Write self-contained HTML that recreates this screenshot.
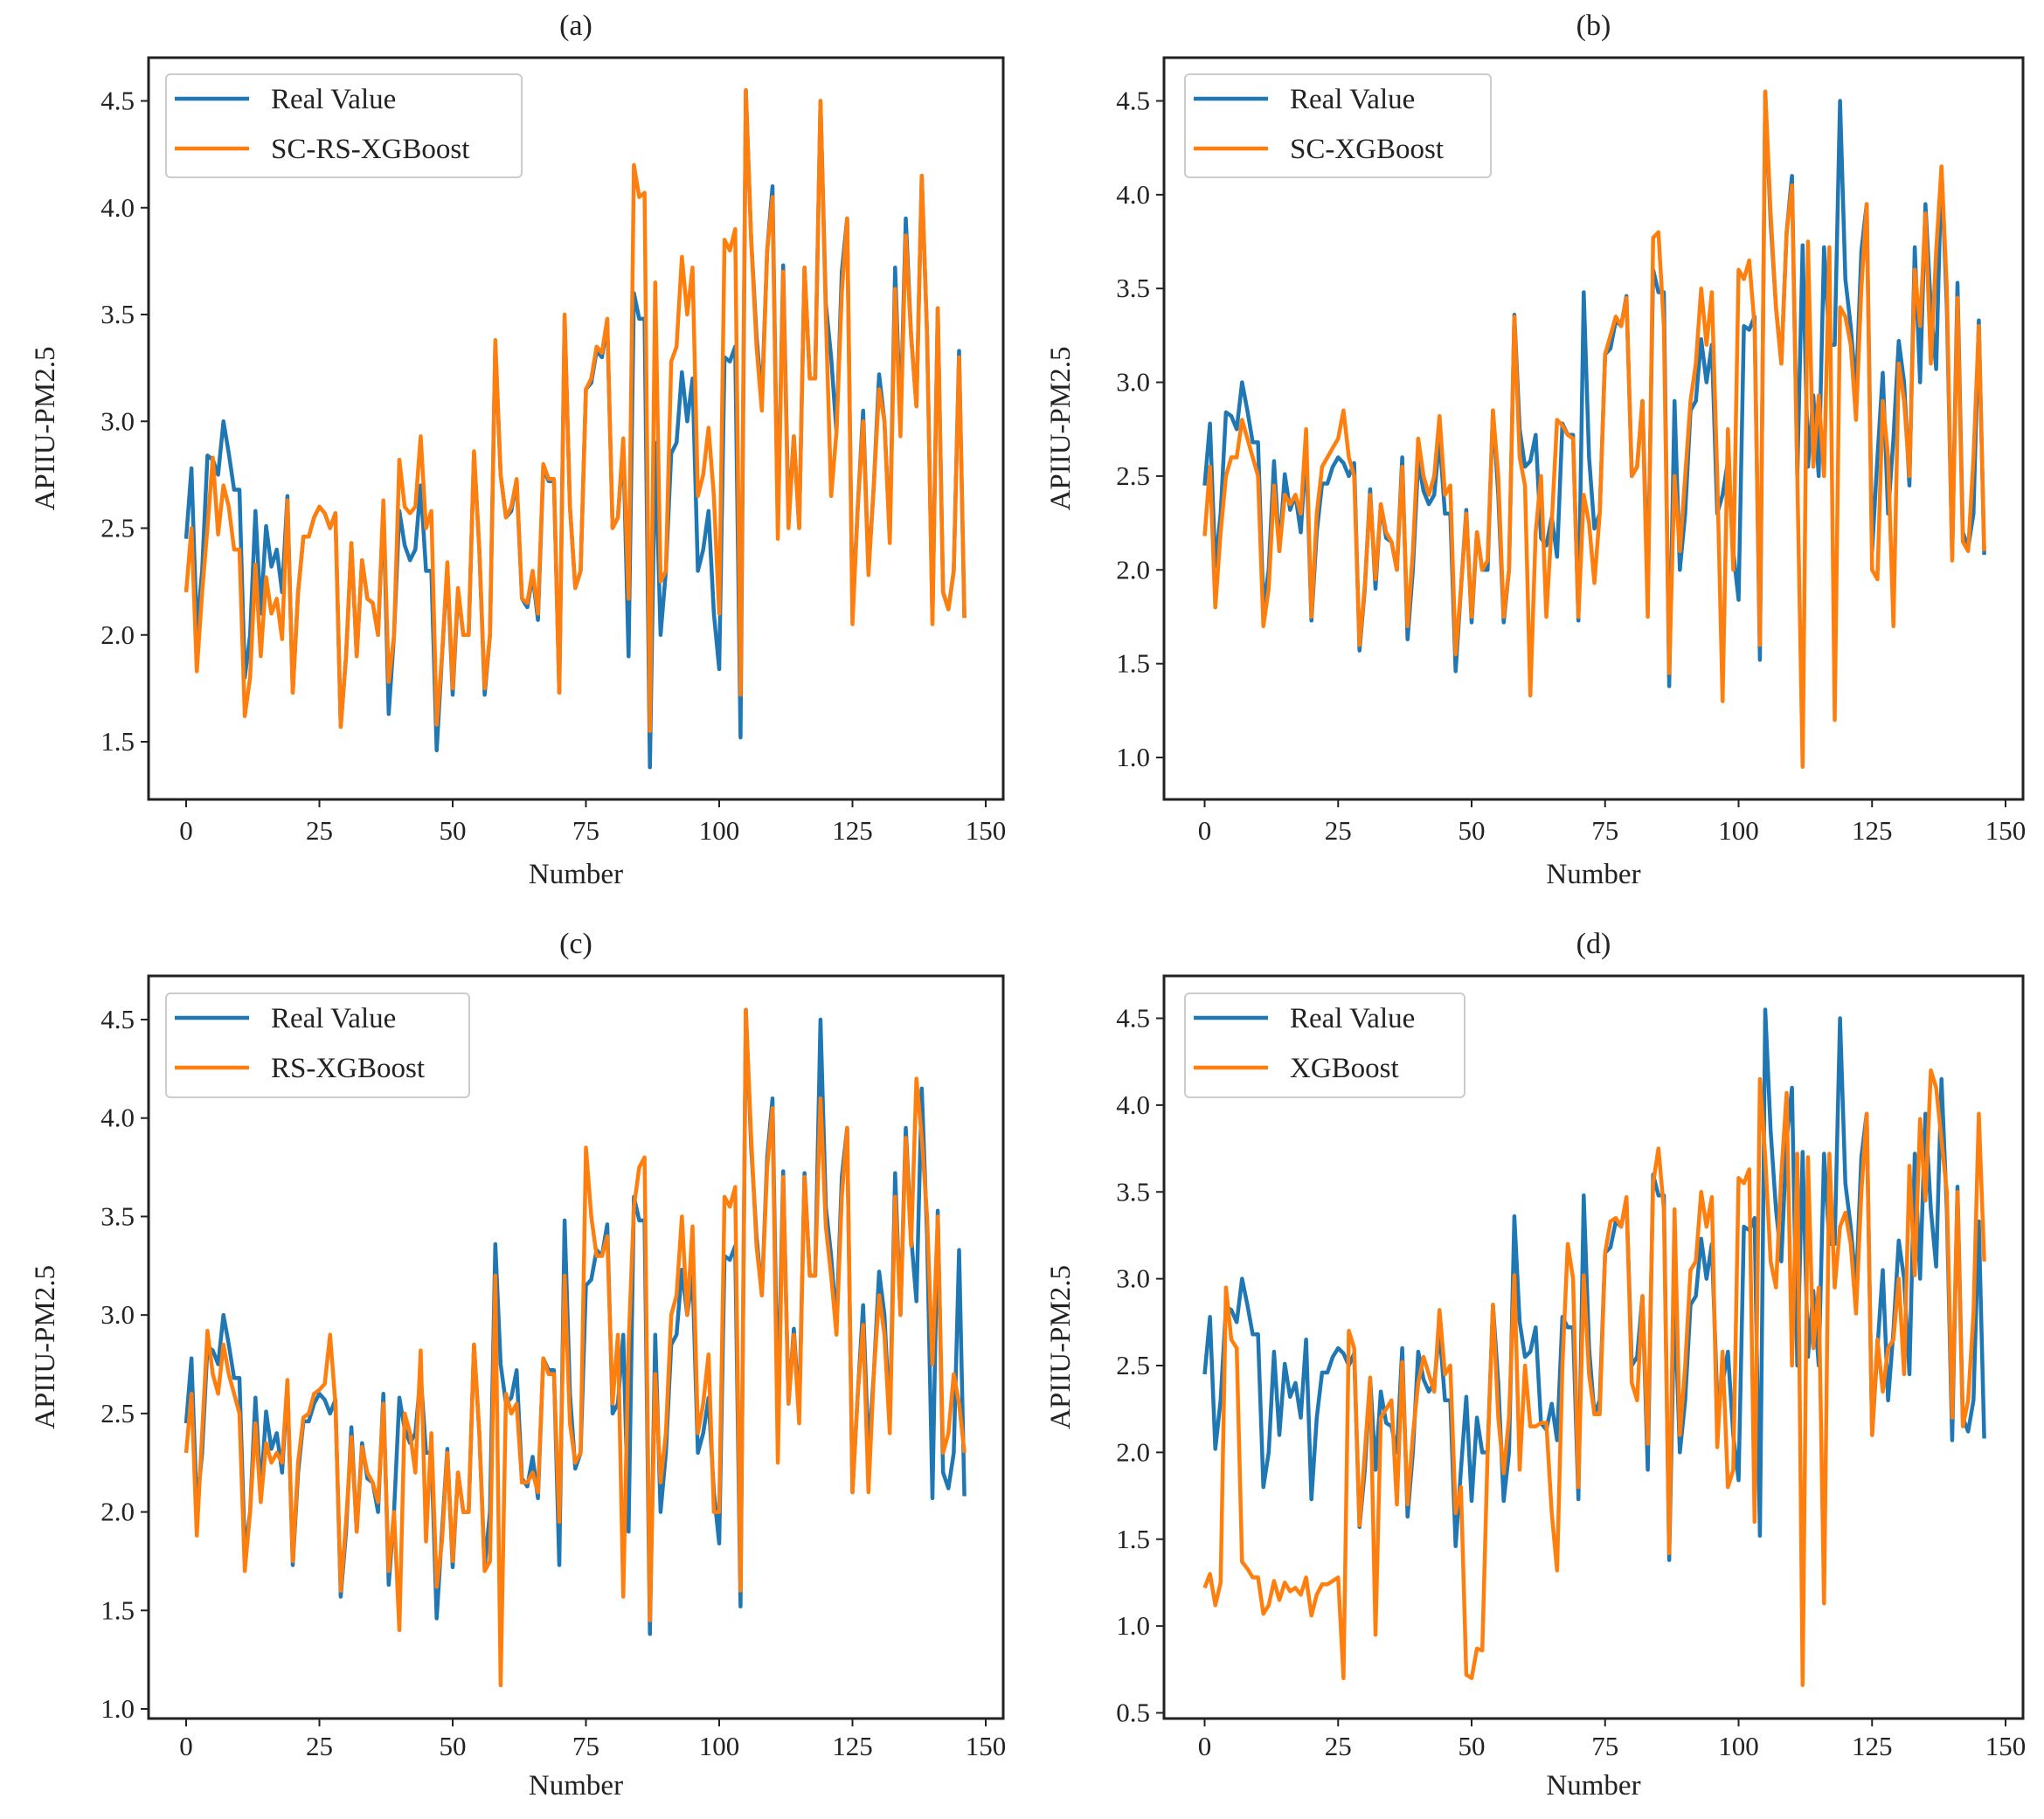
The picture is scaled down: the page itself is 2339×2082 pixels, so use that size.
<!DOCTYPE html>
<html><head><meta charset="utf-8">
<style>
html,body{margin:0;padding:0;background:#fff;}
svg{display:block;font-family:"Liberation Serif",serif;}
</style></head>
<body>
<svg id="fig" width="2339" height="2082" viewBox="0 0 2339 2082" xmlns="http://www.w3.org/2000/svg"></svg>
<script>
const categories = [];
for (let i = 0; i < 147; i++) categories.push(i);
const realValues = [2.45,2.78,2.02,2.3,2.84,2.82,2.75,3.0,2.85,2.68,
2.68,1.8,2.0,2.58,2.1,2.51,2.32,2.4,2.2,2.65,
1.73,2.2,2.46,2.46,2.55,2.6,2.57,2.5,2.57,1.57,
1.9,2.43,1.9,2.35,2.17,2.15,2.0,2.6,1.63,2.0,
2.58,2.42,2.35,2.4,2.7,2.3,2.3,1.46,1.9,2.32,
1.72,2.2,2.0,2.0,2.85,2.4,1.72,2.0,3.36,2.75,
2.55,2.58,2.72,2.17,2.13,2.28,2.07,2.78,2.72,2.72,
1.73,3.48,2.6,2.22,2.3,3.15,3.18,3.33,3.3,3.46,
2.5,2.55,2.9,1.9,3.6,3.48,3.48,1.38,2.9,2.0,
2.3,2.85,2.9,3.23,3.0,3.2,2.3,2.4,2.58,2.1,
1.84,3.3,3.28,3.35,1.52,4.55,3.85,3.4,3.1,3.8,
4.1,2.5,3.73,2.55,2.93,2.5,3.72,3.2,3.2,4.5,
3.55,3.3,2.95,3.7,3.95,2.1,2.6,3.05,2.3,2.7,
3.22,3.0,2.45,3.72,3.0,3.95,3.4,3.07,4.15,3.4,
2.07,3.53,2.2,2.12,2.3,3.33,2.08];
const scRsXgbValues = [2.2,2.5,1.83,2.2,2.5,2.83,2.47,2.7,2.6,2.4,
2.4,1.62,1.8,2.33,1.9,2.27,2.1,2.17,1.98,2.63,
1.73,2.2,2.46,2.46,2.55,2.6,2.57,2.5,2.57,1.57,
1.9,2.43,1.9,2.35,2.17,2.15,2.0,2.63,1.78,2.0,
2.82,2.6,2.57,2.6,2.93,2.5,2.58,1.58,1.9,2.34,
1.75,2.22,2.0,2.0,2.86,2.4,1.75,2.0,3.38,2.75,
2.55,2.6,2.73,2.17,2.15,2.3,2.1,2.8,2.73,2.73,
1.73,3.5,2.6,2.22,2.3,3.15,3.2,3.35,3.32,3.48,
2.5,2.55,2.92,2.17,4.2,4.05,4.07,1.55,3.65,2.25,
2.3,3.28,3.35,3.77,3.5,3.72,2.65,2.75,2.97,2.65,
2.1,3.85,3.8,3.9,1.72,4.55,3.85,3.35,3.05,3.8,
4.05,2.45,3.7,2.5,2.93,2.5,3.72,3.2,3.2,4.5,
3.5,2.65,2.95,3.6,3.95,2.05,2.6,3.0,2.28,2.7,
3.15,3.0,2.43,3.62,2.93,3.87,3.4,3.07,4.15,3.4,
2.05,3.53,2.2,2.12,2.3,3.3,2.08];
const scXgbValues = [2.18,2.55,1.8,2.2,2.5,2.6,2.6,2.8,2.7,2.6,
2.5,1.7,1.9,2.45,2.1,2.4,2.35,2.4,2.3,2.75,
1.75,2.3,2.55,2.6,2.65,2.7,2.85,2.6,2.5,1.6,
1.92,2.4,1.95,2.35,2.2,2.15,2.0,2.55,1.7,2.1,
2.7,2.5,2.4,2.5,2.82,2.4,2.45,1.55,1.9,2.3,
1.75,2.2,2.0,2.05,2.85,2.5,1.75,2.0,3.35,2.6,
2.45,1.33,2.2,2.5,1.75,2.25,2.8,2.77,2.72,2.7,
1.75,2.4,2.25,1.93,2.3,3.15,3.25,3.35,3.3,3.45,
2.5,2.55,2.9,1.75,3.77,3.8,3.3,1.45,2.5,2.1,
2.5,2.9,3.1,3.5,3.2,3.48,2.5,1.3,2.75,2.0,
3.6,3.55,3.65,3.3,1.6,4.55,3.9,3.4,3.1,3.8,
4.05,2.5,0.95,3.75,2.55,2.93,2.5,3.72,1.2,3.4,
3.35,3.2,2.8,3.5,3.95,2.0,1.95,2.9,2.6,1.7,
3.1,2.9,2.5,3.6,3.3,3.9,3.1,3.7,4.15,3.5,
2.05,3.45,2.15,2.1,2.6,3.3,2.1];
const rsXgbValues = [2.3,2.6,1.88,2.4,2.92,2.7,2.6,2.85,2.7,2.6,
2.5,1.7,2.0,2.45,2.05,2.35,2.25,2.3,2.25,2.67,
1.75,2.25,2.48,2.5,2.6,2.62,2.65,2.9,2.55,1.6,
1.95,2.38,1.9,2.33,2.2,2.15,2.05,2.55,1.7,2.0,
1.4,2.5,2.4,2.2,2.82,1.85,2.4,1.62,1.85,2.3,
1.75,2.2,2.0,2.0,2.85,2.4,1.7,1.75,3.2,1.12,
2.6,2.5,2.55,2.15,2.15,2.2,2.1,2.78,2.7,2.7,
1.95,3.2,2.45,2.25,2.3,3.85,3.5,3.3,3.3,3.4,
2.55,2.9,1.57,2.85,3.55,3.75,3.8,1.45,2.7,2.15,
2.4,3.0,3.1,3.5,3.0,3.45,2.4,2.55,2.8,2.0,
2.0,3.6,3.55,3.65,1.6,4.55,3.9,3.35,3.1,3.75,
4.05,2.25,3.7,2.55,2.9,2.45,3.7,3.2,3.2,4.1,
3.45,3.2,2.9,3.6,3.95,2.1,2.6,2.95,2.1,2.7,
3.1,2.9,2.4,3.6,3.0,3.9,3.35,4.2,3.9,3.5,
2.75,3.5,2.3,2.4,2.7,2.55,2.3];
const xgbValues = [1.22,1.3,1.12,1.25,2.95,2.65,2.6,1.37,1.33,1.28,
1.28,1.07,1.12,1.26,1.15,1.25,1.2,1.22,1.18,1.28,
1.06,1.18,1.24,1.24,1.26,1.28,0.7,2.7,2.6,1.58,
2.0,2.43,0.95,2.2,2.25,2.3,1.7,2.52,1.7,2.1,
2.4,2.55,2.45,2.35,2.82,2.45,2.5,1.65,1.8,0.72,
0.7,0.87,0.86,2.0,2.85,2.2,1.88,2.2,3.02,1.9,
2.5,2.15,2.15,2.17,2.17,1.65,1.32,2.5,3.2,3.0,
1.8,3.02,2.45,2.22,2.22,3.15,3.33,3.35,3.3,3.47,
2.4,2.3,2.9,2.05,3.55,3.75,3.4,1.42,3.4,2.1,
2.5,3.05,3.1,3.5,3.3,3.47,2.03,2.58,1.8,1.9,
3.58,3.55,3.63,1.6,4.15,3.7,3.1,2.95,3.6,4.07,
2.5,3.72,0.66,3.7,2.6,2.95,1.13,3.72,2.95,3.3,
3.38,3.2,2.8,3.5,3.95,2.1,2.65,2.35,2.6,2.65,
3.0,2.45,3.65,3.02,3.92,3.45,4.2,4.1,3.8,3.5,
2.2,3.5,2.15,2.3,2.8,3.95,3.1];
const xTicks = [0,25,50,75,100,125,150];
const yTicksA = [1.5,2.0,2.5,3.0,3.5,4.0,4.5];
const yTicksB = [1.0,1.5,2.0,2.5,3.0,3.5,4.0,4.5];
const yTicksC = [1.0,1.5,2.0,2.5,3.0,3.5,4.0,4.5];
const yTicksD = [0.5,1.0,1.5,2.0,2.5,3.0,3.5,4.0,4.5];
const panelTitles = ["(a)","(b)","(c)","(d)"];
const modelNames = ["SC-RS-XGBoost","SC-XGBoost","RS-XGBoost","XGBoost"];

const svg = document.getElementById('fig');
const NS = 'http://www.w3.org/2000/svg';
function mk(tag, attrs, parent) {
  const e = document.createElementNS(NS, tag);
  for (const k in attrs) e.setAttribute(k, attrs[k]);
  (parent || svg).appendChild(e);
  return e;
}
const panels = [
  {key:'a', L:170, R:1148, T:66, B:915, x0:213, x150:1128, yv1:1.5, yp1:849, yv2:4.5, yp2:115.5, ticks:yTicksA, pred:scRsXgbValues, leg:[190,85,597,203], tk:46, nb:96},
  {key:'b', L:1332, R:2315, T:66, B:915, x0:1378.5, x150:2295, yv1:1.0, yp1:867, yv2:4.5, yp2:115.5, ticks:yTicksB, pred:scXgbValues, leg:[1356,85,1706,203], tk:46, nb:96},
  {key:'c', L:170, R:1148, T:1117, B:1967, x0:213, x150:1128, yv1:1.0, yp1:1956, yv2:4.5, yp2:1167, ticks:yTicksC, pred:rsXgbValues, leg:[190,1137,537,1256], tk:42, nb:87},
  {key:'d', L:1332, R:2315, T:1117, B:1967, x0:1378.5, x150:2295, yv1:0.5, yp1:1960.5, yv2:4.5, yp2:1165.5, ticks:yTicksD, pred:xgbValues, leg:[1356,1137,1676,1256], tk:42, nb:87}
];
panels.forEach((p, pi) => {
  const g = mk('g', {});
  
  
  const xs = v => p.x0 + (v / 150) * (p.x150 - p.x0);
  const ys = v => p.yp1 + (v - p.yv1) / (p.yv2 - p.yv1) * (p.yp2 - p.yp1);
  const t = mk('text', {x:(p.L+p.R)/2, y:p.T-26, 'font-size':34, 'text-anchor':'middle', fill:'#222'}, g);
  t.textContent = panelTitles[pi];
  
  
  const line = (vals, color, name) => {
    const d = vals.map((v,i) => (i ? 'L' : 'M') + xs(categories[i]).toFixed(1) + ' ' + ys(v).toFixed(1)).join(' ');
    const pth = mk('path', {d:d, fill:'none', stroke:color, 'stroke-width':4.5, 'stroke-linejoin':'round'}, g);
    
    
  };
  line(realValues, '#1f77b4', 'real-value-line');
  line(p.pred, '#ff7f0e', 'prediction-line');
  const fr = mk('rect', {x:p.L, y:p.T, width:p.R-p.L, height:p.B-p.T, fill:'none', stroke:'#222', 'stroke-width':3}, g);
  
  
  xTicks.forEach(v => {
    const x = xs(v);
    mk('line', {x1:x, y1:p.B, x2:x, y2:p.B+9, stroke:'#222', 'stroke-width':2}, g);
    const tl = mk('text', {x:x, y:p.B+p.tk, 'font-size':31, 'text-anchor':'middle', fill:'#222'}, g);
    tl.textContent = v;
    
    
  });
  p.ticks.forEach(v => {
    const y = ys(v);
    mk('line', {x1:p.L-9, y1:y, x2:p.L, y2:y, stroke:'#222', 'stroke-width':2}, g);
    const tl = mk('text', {x:p.L-16, y:y+10, 'font-size':31, 'text-anchor':'end', fill:'#222'}, g);
    tl.textContent = v.toFixed(1);
    
    
  });
  const xt = mk('text', {x:(p.L+p.R)/2, y:p.B+p.nb, 'font-size':33, 'text-anchor':'middle', fill:'#222'}, g);
  xt.textContent = 'Number';
  
  
  const yx = p.L - 108, yy = (p.T + p.B) / 2;
  const yt = mk('text', {x:yx, y:yy, 'font-size':33, 'text-anchor':'middle', fill:'#222', transform:'rotate(-90 '+yx+' '+yy+')'}, g);
  yt.textContent = 'APIIU-PM2.5';
  
  
  const [lx, ly, rx, ry] = p.leg;
  const lg = mk('g', {}, g);
  
  
  mk('rect', {x:lx, y:ly, width:rx-lx, height:ry-ly, rx:5, fill:'#fff', 'fill-opacity':0.8, stroke:'#ccc', 'stroke-width':2}, lg);
  const entries = [['Real Value','#1f77b4'],[modelNames[pi],'#ff7f0e']];
  entries.forEach((e, i) => {
    const cy = ly + 28 + i * 57;
    const ent = mk('g', {}, lg);
    
    
    mk('line', {x1:lx+10, y1:cy, x2:lx+95, y2:cy, stroke:e[1], 'stroke-width':4.5}, ent);
    const tx = mk('text', {x:lx+120, y:cy+11, 'font-size':33, fill:'#222'}, ent);
    tx.textContent = e[0];
  });
});
</script>
</body></html>
